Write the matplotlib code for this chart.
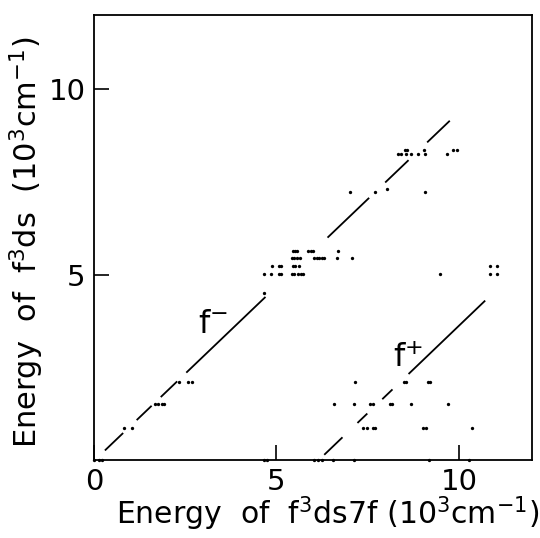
import matplotlib
matplotlib.use('Agg')
import matplotlib.pyplot as plt

# level rows of the computed states (10^3 cm^-1): y level and x positions
row_levels = [0.0, 0.85, 1.5, 2.1, 4.5, 5.02, 5.24, 5.45, 5.65, 7.22, 7.32, 8.26, 8.36]
row_x = [
    [0.0, 0.14, 0.22, 4.65, 4.73, 6.04, 6.13, 6.25, 6.54, 7.13, 9.18, 10.27],
    [0.82, 1.04, 7.36, 7.48, 7.65, 7.70, 9.02, 9.09, 10.35],
    [1.67, 1.75, 1.86, 1.91, 6.58, 7.13, 7.57, 7.65, 8.11, 8.17, 8.69, 9.71],
    [2.32, 2.57, 2.70, 7.16, 8.50, 8.56, 9.15, 9.22],
    [4.67],
    [4.65, 4.85, 5.08, 5.13, 5.43, 5.49, 5.58, 5.66, 5.72, 9.48, 10.84, 11.05],
    [4.88, 5.08, 5.13, 5.45, 5.52, 5.63, 10.84, 11.05],
    [5.43, 5.49, 5.56, 5.65, 6.04, 6.10, 6.17, 6.25, 6.31, 6.67, 7.07],
    [5.45, 5.51, 5.57, 5.87, 5.95, 6.01, 6.70],
    [7.02, 7.69, 9.06],
    [8.04],
    [8.33, 8.41, 8.56, 8.70, 8.88, 9.06, 9.68],
    [8.52, 8.57, 9.04, 9.84, 9.95],
]

# the two guide lines y = m*x + b, drawn in broken pieces
fminus_m, fminus_b = 0.941, -0.025
fminus_segs = [(0.30, 0.80), (1.17, 1.58), (1.83, 2.28), (2.53, 4.70),
               (6.40, 7.54), (7.98, 8.62), (9.13, 9.75)]
fplus_m, fplus_b = 0.943, -5.81
fplus_segs = [(6.31, 6.81), (7.22, 7.49), (7.90, 8.18), (8.62, 10.72)]

fig = plt.figure(figsize=(5.4, 5.38), dpi=100)
ax = fig.add_axes([0.174, 0.145, 0.811, 0.827])

for lvl, xs in zip(row_levels, row_x):
    ax.plot(xs, [lvl] * len(xs), 'o', color='black', ms=2.4, mew=0, clip_on=False, zorder=3)

for m, b, segs in [(fminus_m, fminus_b, fminus_segs), (fplus_m, fplus_b, fplus_segs)]:
    for x0, x1 in segs:
        ax.plot([x0, x1], [m * x0 + b, m * x1 + b], color='black', lw=1.3, solid_capstyle='butt')

ax.text(3.27, 3.65, r"f$^{-}$", fontsize=23, ha='center', va='center')
ax.text(8.6, 2.74, r"f$^{+}$", fontsize=23, ha='center', va='center')

ax.set_xlim(0, 12)
ax.set_ylim(0, 12)
ax.set_xticks([0, 5, 10])
ax.set_yticks([5, 10])
ax.tick_params(direction='in', length=11, width=1.2, labelsize=21)
ax.tick_params(axis='x', pad=6)
ax.tick_params(axis='y', pad=6)
for sp in ax.spines.values():
    sp.set_linewidth(1.3)

ax.set_xlabel(r"Energy  of  f$^3$ds7f (10$^3$cm$^{-1}$)", fontsize=21.5)
ax.set_ylabel(r"Energy  of  f$^3$ds  (10$^3$cm$^{-1}$)", fontsize=22)
ax.xaxis.set_label_coords(0.533, -0.078)
ax.yaxis.set_label_coords(-0.11, 0.49)

fig.savefig("out.png", dpi=100)
